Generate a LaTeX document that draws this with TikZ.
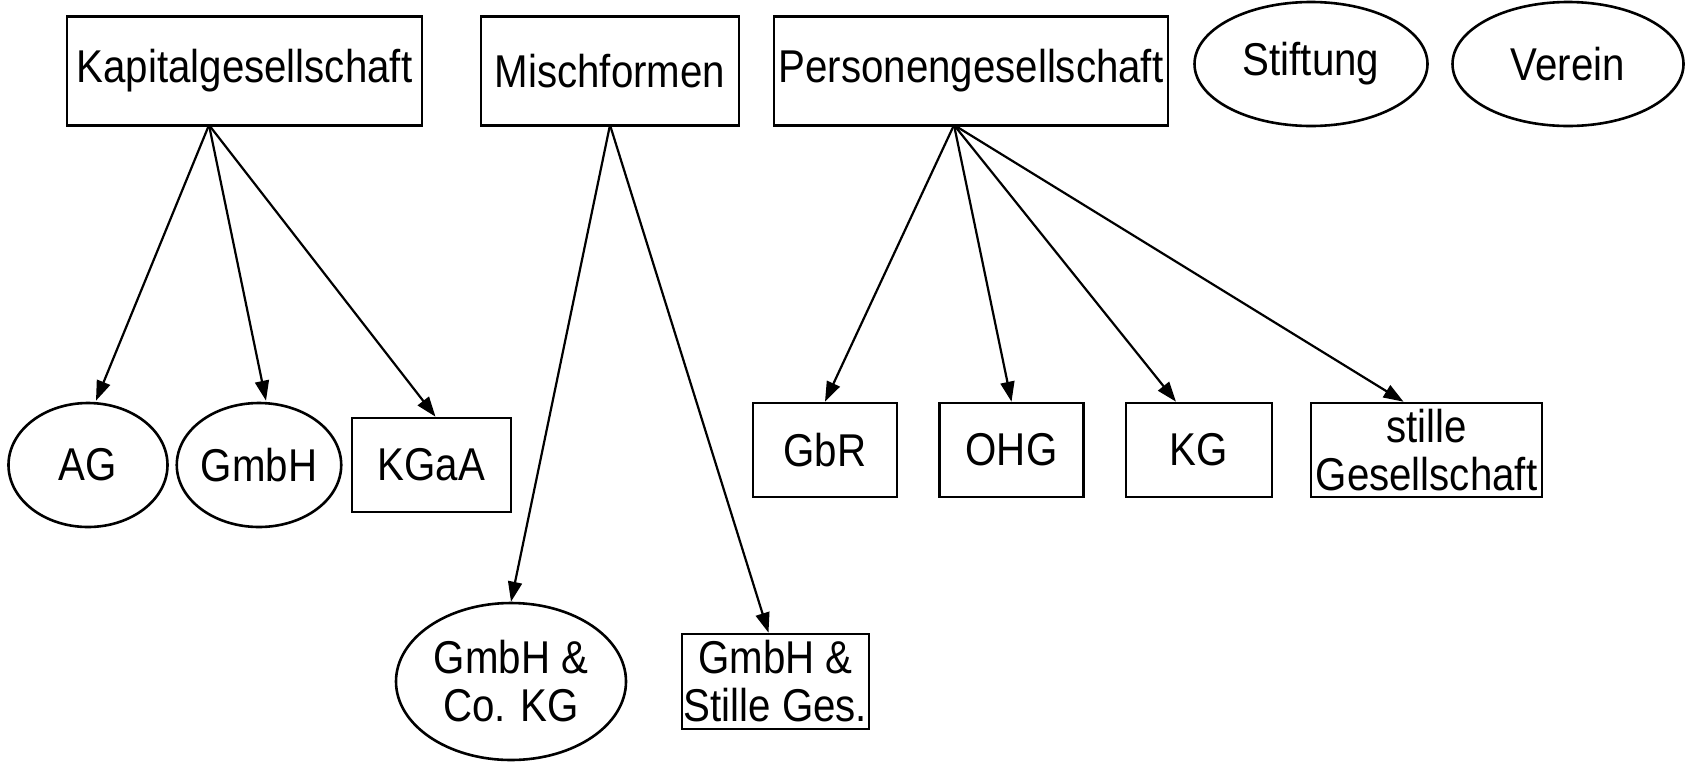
\documentclass[tikz,border=0pt]{standalone}
\usepackage{fontspec}
\setmainfont{Liberation Sans}[FakeStretch=0.875]
\usetikzlibrary{shapes.geometric,arrows.meta}
\begin{document}
\begin{tikzpicture}[x=1pt,y=-1pt,
  every node/.style={font=\fontsize{46}{48}\selectfont, inner sep=0pt, align=center},
  box/.style={draw, rectangle, line width=2.6pt},
  oval/.style={draw, ellipse, line width=2.6pt},
  arr/.style={line width=2.2pt, -{Triangle[length=20pt,width=14pt]}}]
\useasboundingbox (0,0) rectangle (1686,764);
% top row
\node[box, minimum width=355pt, minimum height=109pt] (kap) at (244.5,71) {Kapitalgesellschaft};
\node[box, minimum width=258pt, minimum height=109pt] (misch) at (610,71) {Mischformen};
\node[box, minimum width=394pt, minimum height=109pt] (pers) at (971,71) {Personengesellschaft};
\node[oval, minimum width=233pt, minimum height=124pt] (stift) at (1311,64) {Stiftung};
\node[oval, minimum width=231pt, minimum height=124pt] (verein) at (1568,64) {Verein};
% start points
\coordinate (ks) at (209,125);
\coordinate (ms) at (610,125);
\coordinate (ps) at (954,125);
% second row
\node[oval, minimum width=159pt, minimum height=124pt] (ag) at (88,465) {AG};
\node[oval, minimum width=158pt, minimum height=124pt] (gmbh) at (259,465) {GmbH};
\node[box, minimum width=159pt, minimum height=94pt] (kgaa) at (431.5,465) {KGaA};
\node[box, minimum width=144pt, minimum height=94pt] (gbr) at (825,450) {GbR};
\node[box, minimum width=144pt, minimum height=94pt] (ohg) at (1011.5,450) {OHG};
\node[box, minimum width=146pt, minimum height=94pt] (kg) at (1199,450) {KG};
\node[box, minimum width=231pt, minimum height=94pt] (stille) at (1426.5,450) {stille\\Gesellschaft};
% third row
\node[oval, minimum width=230pt, minimum height=157pt] (gcokg) at (511,681.5) {GmbH \&\\Co. KG};
\node[box, minimum width=187pt, minimum height=95pt] (gstille) at (775.5,681.5) {GmbH \&\\Stille Ges.};
% arrows
\draw[arr] (ks) -- ([xshift=8pt,yshift=1pt]ag.north);
\draw[arr] (ks) -- ([xshift=7pt,yshift=1pt]gmbh.north);
\draw[arr] (ks) -- ([xshift=4pt]kgaa.north);
\draw[arr] (ms) -- (gcokg.north);
\draw[arr] (ms) -- ([xshift=-7pt]gstille.north);
\draw[arr] (ps) -- (gbr.north);
\draw[arr] (ps) -- (ohg.north);
\draw[arr] (ps) -- ([xshift=-23pt]kg.north);
\draw[arr] (ps) -- ([xshift=-23pt]stille.north);
\end{tikzpicture}
\end{document}
